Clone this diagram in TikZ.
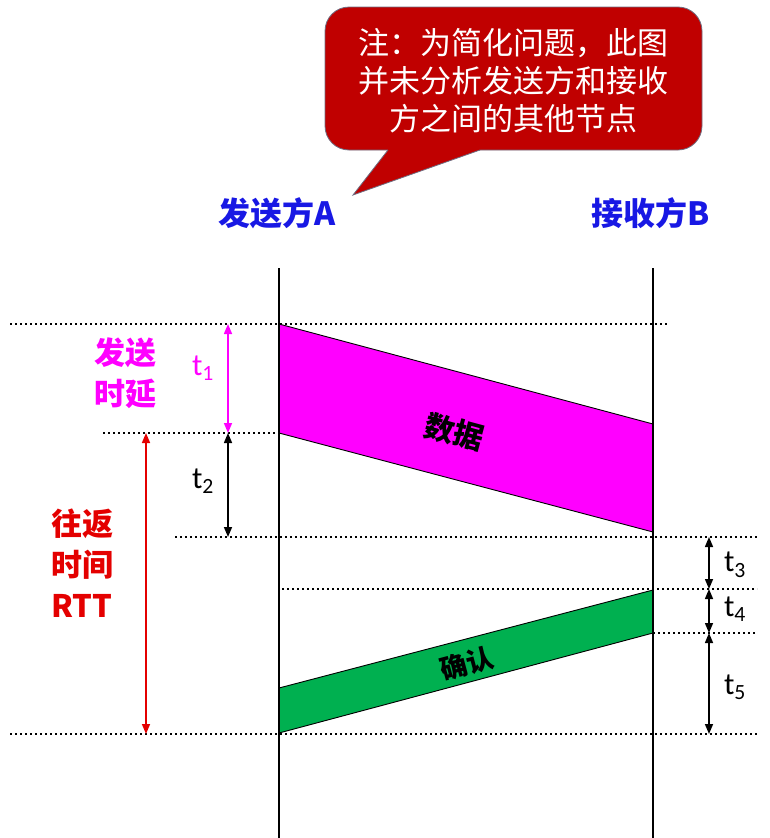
\documentclass[tikz,border=0pt]{standalone}
\usepackage{fontspec}
\setmainfont{Noto Sans CJK SC}
\newfontfamily\tfont{Carlito}
\usetikzlibrary{arrows.meta}
\definecolor{calloutred}{RGB}{192,0,0}
\definecolor{calloutborder}{RGB}{110,110,130}
\definecolor{headblue}{RGB}{24,24,228}
\definecolor{mag}{RGB}{255,0,255}
\definecolor{ackgreen}{RGB}{0,176,80}
\definecolor{rttred}{RGB}{228,0,0}
\begin{document}
\begin{tikzpicture}[x=1pt,y=-1pt,
  lifeline/.style={line width=2pt,black},
  dotline/.style={line width=2.2pt,dash pattern=on 2.2pt off 2.8pt,black},
  band/.style={draw=black,line width=0.9pt},
  dim/.style={line width=1.5pt,{Triangle[length=10pt,width=8pt]}-{Triangle[length=10pt,width=8pt]}},
  head/.style={text=headblue,font=\fontsize{32}{36}\selectfont\bfseries,inner sep=0pt},
  tlabel/.style={font=\tfont\fontsize{31}{32}\selectfont,inner sep=0pt},
  sidelabel/.style={font=\fontsize{31}{41}\selectfont\bfseries,align=center,inner sep=0pt},
  bandtext/.style={font=\bfseries,inner sep=0pt}
]
\useasboundingbox (0,0) rectangle (769,838);

% callout
\draw[fill=calloutred,draw=calloutborder,line width=0.8pt,rounded corners=24] (325,7) rectangle (702,150);
\fill[calloutred] (388,144) -- (388,150) -- (353,195) -- (480,150) -- (480,144) -- cycle;
\draw[calloutborder,line width=0.8pt] (388,150) -- (353,195) -- (480,150);
\node[text=white,align=center,font=\fontsize{31}{38}\selectfont,inner sep=0pt] (note) at (513,81)
  {注：为简化问题，此图\\并未分析发送方和接收\\方之间的其他节点};

% headers
\node[head] (A) at (277,213) {发送方A};
\node[head] (B) at (651,213) {接收方B};

% coordinates
\coordinate (Atop) at (279,268); \coordinate (Abot) at (279,838);
\coordinate (Btop) at (653,268); \coordinate (Bbot) at (653,838);

% dotted lines
\coordinate (d1l) at (10,324);  \coordinate (d1r) at (667,324);
\coordinate (d2l) at (103,433); \coordinate (d2r) at (279,433);
\coordinate (d3l) at (175,537); \coordinate (d3r) at (757,537);
\coordinate (d4l) at (282,589); \coordinate (d4r) at (757,589);
\coordinate (d5l) at (653,633); \coordinate (d5r) at (757,633);
\coordinate (d6l) at (10,734);  \coordinate (d6r) at (757,734);
\draw[dotline] (d1l) -- (d1r);
\draw[dotline] (d2l) -- (d2r);
\draw[dotline] (d3l) -- (d3r);
\draw[dotline] (d4l) -- (d4r);
\draw[dotline] (d5l) -- (d5r);
\draw[dotline] (d6l) -- (d6r);

% bands
\coordinate (m1) at (279,324); \coordinate (m2) at (653,424);
\coordinate (m3) at (653,532); \coordinate (m4) at (279,433);
\draw[band,fill=mag] (m1) -- (m2) -- (m3) -- (m4) -- cycle;
\coordinate (g1) at (279,688); \coordinate (g2) at (653,590);
\coordinate (g3) at (653,633); \coordinate (g4) at (279,733);
\draw[band,fill=ackgreen] (g1) -- (g2) -- (g3) -- (g4) -- cycle;
\node[bandtext,rotate=-15,font=\fontsize{30}{32}\selectfont\bfseries] (data) at (454,432) {数据};
\node[bandtext,rotate=15,font=\fontsize{27}{30}\selectfont\bfseries] (ack) at (467,664) {确认};

% lifelines
\draw[lifeline] (Atop) -- (Abot);
\draw[lifeline] (Btop) -- (Bbot);

% dimension arrows
\coordinate (t1a) at (228,324); \coordinate (t1b) at (228,433);
\coordinate (t2b) at (228,537);
\coordinate (ra) at (146,433);  \coordinate (rb) at (146,734);
\coordinate (t3a) at (709,537); \coordinate (t3b) at (709,589);
\coordinate (t4b) at (709,633); \coordinate (t5b) at (709,734);
\draw[dim,mag] (t1a) -- (t1b);
\draw[dim,black] (t1b) -- (t2b);
\draw[dim,rttred] (ra) -- (rb);
\draw[dim,black] (t3a) -- (t3b);
\draw[dim,black] (t3b) -- (t4b);
\draw[dim,black] (t4b) -- (t5b);

% labels
\node[tlabel,text=mag] (l1) at (203,368) {t\textsubscript{1}};
\node[tlabel] (l2) at (203,481) {t\textsubscript{2}};
\node[tlabel] (l3) at (735,565) {t\textsubscript{3}};
\node[tlabel] (l4) at (735,609) {t\textsubscript{4}};
\node[tlabel] (l5) at (735,687) {t\textsubscript{5}};
\node[sidelabel,text=mag] (send) at (125,373) {发送\\时延};
\node[sidelabel,text=rttred] (rtt) at (82,563) {往返\\时间\\RTT};
\end{tikzpicture}
\end{document}
